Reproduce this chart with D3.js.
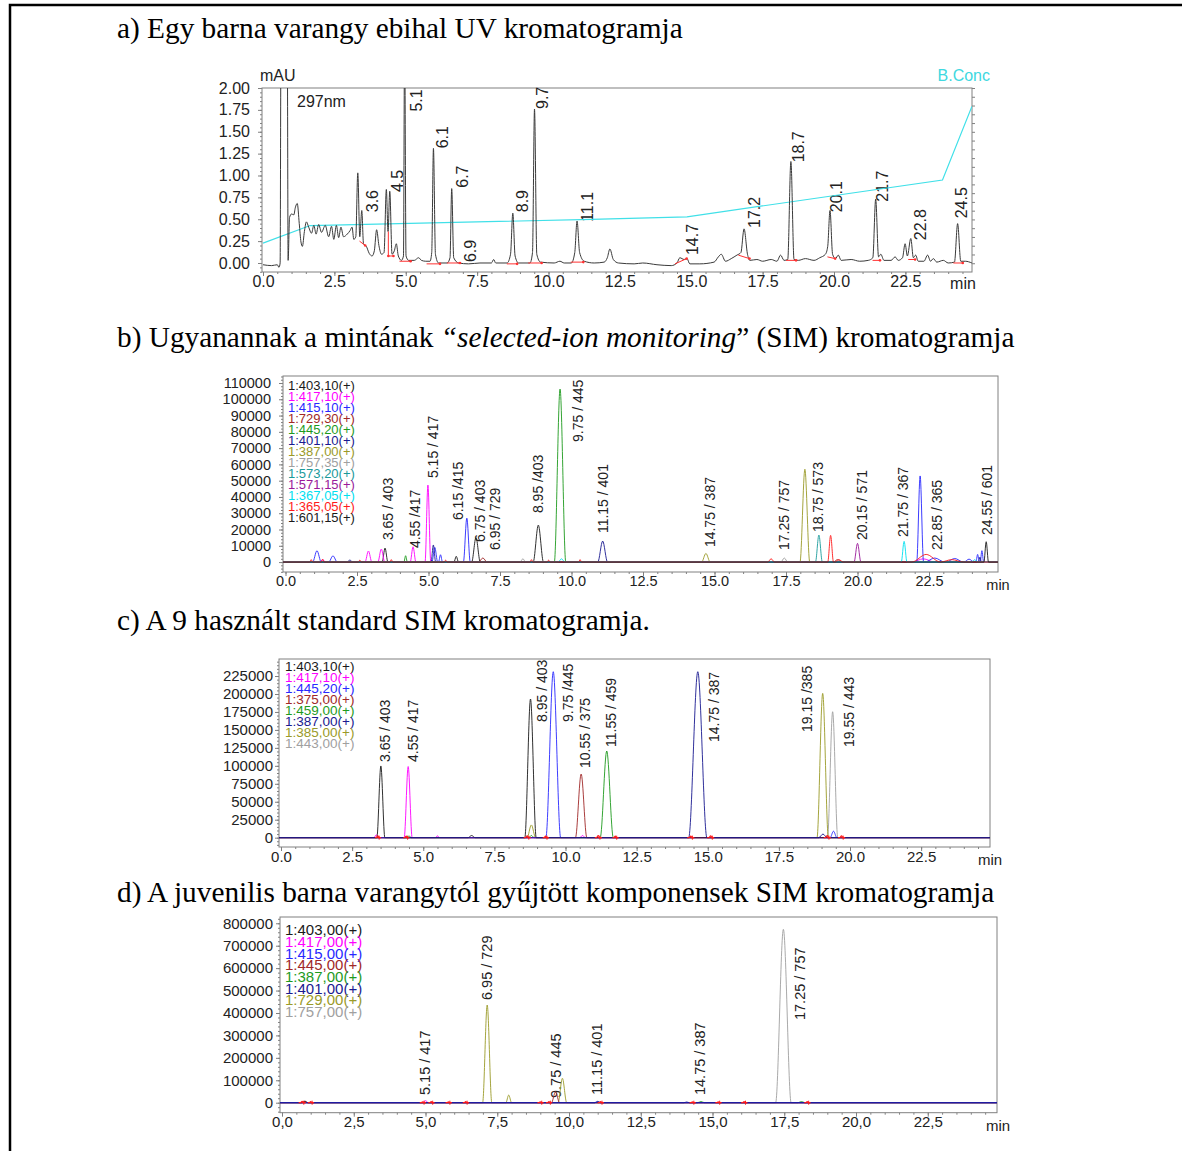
<!DOCTYPE html>
<html>
<head>
<meta charset="utf-8">
<script src="https://cdn.jsdelivr.net/npm/d3@7"></script>
<style>
  body { margin: 0; background: #fff; }
  svg text { font-family: "Liberation Sans", Arial, sans-serif; }
  svg text.title { font-family: "Liberation Serif", "Times New Roman", serif; font-size: 29.3px; fill: #000; }
</style>
</head>
<body>
<svg id="chart" width="1182" height="1151"></svg>
<script>
// ---------- data ----------
var xTicks = [0, 2.5, 5, 7.5, 10, 12.5, 15, 17.5, 20, 22.5];
var yTicksA = [0, 0.25, 0.5, 0.75, 1, 1.25, 1.5, 1.75, 2];
var yTicksB = [0, 10000, 20000, 30000, 40000, 50000, 60000, 70000, 80000, 90000, 100000, 110000];
var yTicksC = [0, 25000, 50000, 75000, 100000, 125000, 150000, 175000, 200000, 225000];
var yTicksD = [0, 100000, 200000, 300000, 400000, 500000, 600000, 700000, 800000];

var titleA = [["a) Egy barna varangy ebihal UV kromatogramja", false]];
var titleB = [["b) Ugyanannak a mintának ", false], ["\u201cselected-ion monitoring", true], ["\u201d (SIM) kromatogramja", false]];
var titleC = [["c) A 9 használt standard SIM kromatogramja.", false]];
var titleD = [["d) A juvenilis barna varangytól gyűjtött komponensek SIM kromatogramja", false]];

// a) UV trace at 297 nm: [min, mAU]
var uvTrace = [
  [0.0, -0.02], [0.3, -0.03], [0.5, -0.02], [0.56, -0.05], [0.6, 0.0], [0.63, 2.6], [0.85, 2.6], [0.88, 0.03],
  [0.93, 0.52], [1.0, 0.56], [1.08, 0.55], [1.13, 0.63], [1.2, 0.68], [1.27, 0.45], [1.33, 0.24], [1.38, 0.19],
  [1.45, 0.36], [1.52, 0.47], [1.6, 0.41], [1.7, 0.34], [1.78, 0.43], [1.86, 0.33], [1.95, 0.44], [2.05, 0.35],
  [2.18, 0.43], [2.3, 0.3], [2.4, 0.42], [2.48, 0.27], [2.57, 0.43], [2.65, 0.29], [2.73, 0.41], [2.82, 0.3],
  [2.95, 0.33], [3.05, 0.37], [3.12, 0.41], [3.18, 0.27], [3.25, 0.3], [3.32, 1.03], [3.39, 0.3], [3.46, 0.6],
  [3.52, 0.22], [3.62, 0.19], [3.72, 0.11], [3.82, 0.08], [3.9, 0.14], [3.98, 0.38], [4.06, 0.2], [4.15, 0.1],
  [4.24, 0.12], [4.32, 0.84], [4.38, 0.36], [4.44, 0.82], [4.52, 0.1], [4.6, 0.14], [4.67, 0.22], [4.74, 0.08],
  [4.85, 0.03], [4.92, 0.08], [4.96, 2.6], [5.01, 0.08], [5.1, 0.03], [5.3, 0.03], [5.45, 0.06], [5.55, 0.03],
  [5.7, 0.02], [5.85, 0.02], [5.91, 0.12], [5.97, 1.31], [6.04, 0.1], [6.15, 0.0], [6.45, 0.0], [6.55, 0.06],
  [6.61, 0.85], [6.68, 0.06], [6.85, 0.0], [7.2, -0.01], [7.6, 0.0], [8.0, 0.0], [8.08, 0.04], [8.15, 0.0],
  [8.55, 0.0], [8.67, 0.1], [8.75, 0.57], [8.83, 0.08], [8.95, 0.0], [9.35, 0.0], [9.44, 0.12], [9.51, 1.76],
  [9.59, 0.1], [9.72, 0.01], [10.2, 0.0], [10.4, 0.02], [10.55, 0.0], [10.8, 0.0], [10.92, 0.12], [11.0, 0.48],
  [11.09, 0.12], [11.25, 0.02], [11.6, 0.0], [11.95, 0.01], [12.06, 0.06], [12.15, 0.16], [12.27, 0.04], [12.45, 0.0],
  [13.0, -0.01], [13.3, 0.0], [13.8, -0.02], [14.3, -0.03], [14.5, 0.0], [14.6, 0.06], [14.75, 0.04], [14.85, 0.05],
  [14.95, -0.01], [15.3, -0.01], [15.8, 0.01], [15.95, 0.07], [16.05, 0.1], [16.2, 0.02], [16.4, 0.05], [16.6, 0.09],
  [16.74, 0.12], [16.85, 0.39], [16.97, 0.1], [17.05, 0.03], [17.3, 0.04], [17.5, 0.02], [17.8, 0.04], [18.0, 0.02],
  [18.13, 0.09], [18.25, 0.03], [18.38, 0.04], [18.49, 1.16], [18.6, 0.04], [18.75, 0.03], [19.0, 0.05], [19.3, 0.03],
  [19.5, 0.06], [19.7, 0.1], [19.78, 0.19], [19.86, 0.6], [19.95, 0.1], [20.05, 0.05], [20.15, 0.09], [20.25, 0.03],
  [20.6, 0.04], [20.9, 0.02], [21.2, 0.03], [21.36, 0.06], [21.46, 0.73], [21.56, 0.07], [21.64, 0.1], [21.75, 0.03],
  [22.0, 0.03], [22.14, 0.07], [22.25, 0.03], [22.4, 0.06], [22.49, 0.22], [22.57, 0.08], [22.69, 0.28], [22.78, 0.06],
  [22.86, 0.09], [22.95, 0.02], [23.15, 0.02], [23.28, 0.09], [23.38, 0.02], [23.48, 0.05], [23.6, 0.01], [23.83, 0.03],
  [24.0, 0.0], [24.22, 0.01], [24.33, 0.45], [24.44, 0.02], [24.6, 0.02], [24.83, 0.0]
];
// integration baselines [t1, v1, t2, v2]
var uvBaselines = [
  [3.38, 0.25, 3.58, 0.2], [4.39, 0.36, 4.39, 0.08], [4.39, 0.08, 4.57, 0.08], [4.78, 0.02, 5.17, 0.02],
  [5.73, -0.01, 6.2, -0.01], [6.44, 0.0, 6.9, 0.0], [8.54, -0.01, 8.9, -0.01], [9.29, 0.0, 9.76, 0.0],
  [10.78, 0.01, 11.22, 0.01], [14.43, -0.01, 14.84, 0.05], [16.65, 0.09, 17.04, 0.05], [18.32, 0.03, 18.67, 0.03],
  [19.77, 0.07, 20.04, 0.05], [21.35, 0.03, 21.61, 0.03], [22.6, 0.04, 22.84, 0.04], [24.18, 0.0, 24.51, 0.0]
];
var bConcTime = [0, 1.65, 11.5, 14.85, 23.8, 24.83];
var bConcPct = [11.5, 21.5, 25, 26.5, 47.5, 89.5];
// [label, min, mAU at label foot]
var labelsA = [
  ["3.6", 3.82, 0.58], ["4.5", 4.69, 0.81], ["5.1", 5.36, 1.73], ["6.1", 6.3, 1.31], ["6.7", 6.97, 0.86],
  ["6.9", 7.25, 0.01], ["8.9", 9.07, 0.58], ["9.7", 9.77, 1.76], ["11.1", 11.35, 0.47], ["14.7", 15.03, 0.09],
  ["17.2", 17.2, 0.4], ["18.7", 18.74, 1.15], ["20.1", 20.1, 0.58], ["21.7", 21.68, 0.7], ["22.8", 23.01, 0.26],
  ["24.5", 24.45, 0.51]
];

// b) SIM of the sample: peaks [min, height, half base width in min]
var ionsB = ["1:403,10(+)", "1:417,10(+)", "1:415,10(+)", "1:729,30(+)", "1:445,20(+)", "1:401,10(+)", "1:387,00(+)",
             "1:757,35(+)", "1:573,20(+)", "1:571,15(+)", "1:367,05(+)", "1:365,05(+)", "1:601,15(+)"];
var colorsB = ["#1a1a1a", "#ff00ff", "#2828ff", "#a02828", "#1e9a1e", "#1a1a90", "#9a9a28",
               "#a0a0a0", "#1a9a9a", "#9a1a9a", "#00e0f0", "#ff1a1a", "#1a1a1a"];
var peaksB = [
  [[3.48, 8600, 0.1], [5.97, 3500, 0.08], [6.66, 15000, 0.15], [8.84, 22700, 0.18]],
  [[1.3, 1500, 0.1], [2.9, 6800, 0.12], [3.35, 8000, 0.12], [4.46, 9400, 0.1], [4.98, 47300, 0.1], [22.3, 2000, 0.4]],
  [[1.1, 7000, 0.15], [1.66, 3800, 0.15], [5.22, 9000, 0.1], [5.42, 4500, 0.07], [6.34, 27000, 0.12], [22.19, 52900, 0.12],
   [22.7, 2500, 0.35], [23.4, 2200, 0.3], [23.9, 1800, 0.18], [24.2, 4700, 0.06], [24.35, 7000, 0.06]],
  [[6.9, 2500, 0.15], [19.3, 1500, 0.15]],
  [[4.2, 3900, 0.06], [9.6, 106300, 0.2]],
  [[2.25, 1200, 0.1], [5.17, 10500, 0.08], [11.09, 12900, 0.17], [24.28, 3000, 0.05]],
  [[14.7, 5300, 0.15], [18.16, 57000, 0.17]],
  [[8.3, 2000, 0.1], [17.44, 2500, 0.12]],
  [[18.65, 16600, 0.12]],
  [[20.0, 11500, 0.12]],
  [[9.65, 2000, 0.12], [21.63, 12700, 0.1], [24.1, 1500, 0.1]],
  [[0.9, 1500, 0.05], [1.3, 1800, 0.05], [2.6, 1200, 0.05], [3.7, 1500, 0.05], [5.6, 1200, 0.05], [8.6, 1500, 0.05],
   [9.2, 1200, 0.05], [10.3, 1500, 0.05], [16.98, 2000, 0.12], [19.06, 16400, 0.1], [19.35, 1500, 0.15],
   [22.4, 4700, 0.5], [23.3, 1500, 0.4]],
  [[24.5, 12500, 0.08]]
];
var labelsB = [
  ["3.65 / 403", 3.58, 13500], ["4.55 /417", 4.53, 8600], ["5.15 / 417", 5.16, 51600], ["6.15 /415", 6.03, 25800],
  ["6.75 / 403", 6.8, 12300], ["6.95 / 729", 7.33, 7400], ["8.95 /403", 8.83, 30100], ["9.75 / 445", 10.23, 73800],
  ["11.15 / 401", 11.1, 17800], ["14.75 / 387", 14.84, 9200], ["17.25 / 757", 17.43, 7400], ["18.75 / 573", 18.62, 18400],
  ["20.15 / 571", 20.16, 13500], ["21.75 / 367", 21.59, 15400], ["22.85 / 365", 22.78, 7400], ["24.55 / 601", 24.53, 16600]
];

// c) SIM of the 9 standards
var ionsC = ["1:403,10(+)", "1:417,10(+)", "1:445,20(+)", "1:375,00(+)", "1:459,00(+)", "1:387,00(+)", "1:385,00(+)", "1:443,00(+)"];
var colorsC = ["#1a1a1a", "#ff00ff", "#2828ff", "#a02828", "#1e9a1e", "#1a1a90", "#9a9a28", "#a0a0a0"];
var peaksC = [
  [[3.51, 99800, 0.14], [6.7, 3000, 0.12], [8.77, 193000, 0.2]],
  [[3.35, 4000, 0.08], [4.47, 99000, 0.14], [5.5, 2500, 0.08], [10.6, 3000, 0.1]],
  [[9.57, 231000, 0.26], [19.42, 9000, 0.12]],
  [[10.55, 88600, 0.2]],
  [[4.5, 2500, 0.08], [8.8, 3000, 0.1], [11.45, 120600, 0.23]],
  [[14.65, 231000, 0.32], [19.05, 5000, 0.15]],
  [[8.8, 17700, 0.15], [19.04, 200900, 0.2]],
  [[19.39, 175300, 0.18]]
];
var noiseC = [[3.4, 2500, 0.05], [4.4, 2000, 0.05], [8.65, 2500, 0.06], [9.3, 2000, 0.05], [11.15, 3000, 0.06],
              [11.75, 2000, 0.05], [14.4, 2000, 0.06], [15.1, 2500, 0.06], [19.2, 3000, 0.06], [19.7, 2500, 0.06]];
var labelsC = [
  ["3.65 / 403", 3.66, 105300], ["4.55 / 417", 4.64, 105300], ["8.95 / 403", 9.17, 161000], ["9.75 /445", 10.09, 161000],
  ["10.55 / 375", 10.69, 97000], ["11.55 / 459", 11.6, 126200], ["14.75 / 387", 15.22, 133200],
  ["19.15 /385", 18.49, 147100], ["19.55 / 443", 19.96, 126200]
];

// d) SIM of the juvenile toad components
var ionsD = ["1:403,00(+)", "1:417,00(+)", "1:415,00(+)", "1:445,00(+)", "1:387,00(+)", "1:401,00(+)", "1:729,00(+)", "1:757,00(+)"];
var colorsD = ["#1a1a1a", "#ff00ff", "#2828ff", "#a02828", "#1e9a1e", "#1a1a90", "#9a9a28", "#a0a0a0"];
var peaksD = [
  [[0.8, 5000, 0.1]],
  [[5.0, 9000, 0.1]],
  [[11.0, 4000, 0.1]],
  [[0.8, 7000, 0.1], [9.53, 49000, 0.14]],
  [[14.6, 5000, 0.12], [18.1, 5000, 0.12]],
  [[11.0, 6000, 0.1], [14.1, 3000, 0.1]],
  [[7.15, 435600, 0.16], [7.9, 34000, 0.1], [9.77, 108800, 0.15]],
  [[17.47, 773000, 0.27]]
];
var noiseD = [[0.7, 6000, 0.06], [1.0, 5000, 0.05], [4.9, 4000, 0.05], [5.2, 5000, 0.05], [5.8, 4000, 0.05],
              [6.4, 5000, 0.05], [9.0, 4000, 0.05], [9.3, 5000, 0.05], [11.1, 5000, 0.05], [14.3, 4000, 0.05],
              [15.2, 4000, 0.05], [16.1, 5000, 0.05], [18.3, 5000, 0.05]];
var labelsD = [
  ["5.15 / 417", 4.98, 34300], ["6.95 / 729", 7.14, 457900], ["9.75 / 445", 9.55, 21000],
  ["11.15 / 401", 10.98, 34300], ["14.75 / 387", 14.56, 34300], ["17.25 / 757", 18.05, 368700]
];

// ---------- drawing ----------
var svg = d3.select("#chart");
var fmtComma = d3.formatLocale({decimal: ",", thousands: ".", grouping: [3], currency: ["", ""]}).format(".1f");

// outer frame
svg.append("rect").attr("x", 10).attr("y", 5).attr("width", 1190).attr("height", 1170)
  .attr("fill", "none").attr("stroke", "#000").attr("stroke-width", 2.5);

function title(parts, y) {
  var t = svg.append("text").attr("class", "title").attr("x", 117).attr("y", y);
  parts.forEach(function(p) {
    t.append("tspan").attr("font-style", p[1] ? "italic" : null).text(p[0]);
  });
}
title(titleA, 38);
title(titleB, 347);
title(titleC, 630);
title(titleD, 902);

function panel(p) {
  var xs = d3.scaleLinear()
    .domain([(p.left - p.x0) / p.ppm, (p.right - p.x0) / p.ppm])
    .range([p.left, p.right]);
  var ys = d3.scaleLinear().domain(p.yDomain).range([p.bottom, p.top]);
  var g = svg.append("g");

  function styleAxis(sel) {
    sel.attr("color", "#808080").attr("font-family", null).attr("font-size", p.tickFont);
    sel.select(".domain").remove();
    sel.selectAll("text").attr("fill", "#222");
  }
  g.append("g").attr("transform", "translate(" + p.left + ",0)")
    .call(d3.axisLeft(ys).tickValues(p.yMinor).tickSize(2).tickFormat(""))
    .call(styleAxis);
  g.append("g").attr("transform", "translate(" + p.left + ",0)")
    .call(d3.axisLeft(ys).tickValues(p.yTicks).tickSize(4).tickPadding(p.yPad).tickFormat(p.yFmt))
    .call(styleAxis);
  g.append("g").attr("transform", "translate(0," + p.bottom + ")")
    .call(d3.axisBottom(xs).tickValues(d3.range(0, 24.9, 0.5)).tickSize(2).tickFormat(""))
    .call(styleAxis);
  g.append("g").attr("transform", "translate(0," + p.bottom + ")")
    .call(d3.axisBottom(xs).tickValues(xTicks).tickSize(4).tickPadding(0).tickFormat(p.xFmt))
    .call(styleAxis);

  g.append("rect").attr("x", p.left).attr("y", p.top)
    .attr("width", p.right - p.left).attr("height", p.bottom - p.top)
    .attr("fill", "none").attr("stroke", "#808080").attr("stroke-width", 1);

  g.append("text").attr("x", p.minX).attr("y", p.bottom + p.minDy).attr("dy", "0.35em")
    .attr("text-anchor", "middle").attr("font-size", p.tickFont).attr("fill", "#222").text("min");

  svg.append("clipPath").attr("id", "clip-" + p.id).append("rect")
    .attr("x", p.left).attr("y", p.top).attr("width", p.right - p.left).attr("height", p.bottom - p.top);
  var plot = svg.append("g").attr("clip-path", "url(#clip-" + p.id + ")");
  return {xs: xs, ys: ys, g: g, plot: plot, p: p};
}

function peakPoints(peaks, x0, x1) {
  var raw = [[x0, 0]];
  peaks.slice().sort(function(a, b) { return a[0] - b[0]; }).forEach(function(k) {
    raw.push([k[0] - k[2], 0], [k[0], k[1]], [k[0] + k[2], 0]);
  });
  raw.push([x1, 0]);
  var pts = [];
  raw.forEach(function(d) {
    if (!pts.length || d[0] > pts[pts.length - 1][0] + 1e-6) pts.push(d);
  });
  return pts;
}

function lineGen(pan) {
  return d3.line().x(function(d) { return pan.xs(d[0]); }).y(function(d) { return pan.ys(d[1]); })
    .curve(d3.curveMonotoneX);
}

// draws the ion channels; "order" lists which channel goes down first
function drawChannels(pan, peakSets, colors, order) {
  var dom = pan.xs.domain();
  var line = lineGen(pan);
  var idx = order || peakSets.map(function(d, i) { return i; });
  pan.plot.selectAll(null).data(idx).enter().append("path")
    .attr("d", function(i) { return line(peakPoints(peakSets[i], dom[0], dom[1])); })
    .attr("fill", "none").attr("stroke", function(i) { return colors[i]; })
    .attr("stroke-width", 1).attr("stroke-opacity", 0.9);
}

// red noise blips: short pieces only, so the baseline keeps the other colours
function drawNoise(pan, blips, color) {
  var line = lineGen(pan);
  pan.plot.selectAll(null).data(blips).enter().append("path")
    .attr("d", function(k) { return line(peakPoints([k], k[0] - 2 * k[2], k[0] + 2 * k[2])); })
    .attr("fill", "none").attr("stroke", color).attr("stroke-width", 1.2);
  pan.plot.selectAll(null).data(blips).enter().append("path")
    .attr("d", function(k) {
      var x = pan.xs(k[0] + k[2]), y = pan.ys(0);
      return "M" + (x - 2) + "," + y + "H" + (x + 2) + "M" + x + "," + (y - 2) + "V" + (y + 2);
    })
    .attr("stroke", color).attr("stroke-width", 1);
}

function peakLabels(pan, labels, size) {
  pan.g.selectAll(null).data(labels).enter().append("text")
    .attr("transform", function(d) { return "translate(" + pan.xs(d[1]) + "," + pan.ys(d[2]) + ") rotate(-90)"; })
    .attr("dy", "0.35em").attr("font-size", size).attr("fill", "#222").text(function(d) { return d[0]; });
}

function legend(pan, names, colors) {
  var p = pan.p;
  pan.g.selectAll(null).data(names).enter().append("text")
    .attr("x", p.left + p.legDx).attr("y", function(d, i) { return p.top + p.legDy + i * p.legStep; })
    .attr("dy", "0.35em").attr("font-size", p.legFont)
    .attr("fill", function(d, i) { return colors[i]; }).text(function(d) { return d; });
}

// ----- panel a -----
var pa = panel({
  id: "a", left: 262, right: 972, top: 88, bottom: 272, x0: 263, ppm: 28.55,
  yDomain: [-0.103, 2.0], yTicks: yTicksA, yMinor: d3.range(-0.1, 2.001, 0.05), yFmt: d3.format(".2f"),
  yPad: 8, tickFont: 16, xFmt: d3.format(".1f"), minX: 963, minDy: 11
});
var bScale = d3.scaleLinear().domain([-5, 100]).range([272, 88]);
pa.g.append("g").attr("transform", "translate(972,0)")
  .call(d3.axisRight(bScale).tickValues(d3.range(0, 101, 5)).tickSize(3).tickFormat(""))
  .call(function(s) { s.attr("color", "#808080"); s.select(".domain").remove(); });

pa.plot.append("path")
  .attr("d", d3.line().x(function(d) { return pa.xs(d); }).y(function(d, i) { return bScale(bConcPct[i]); })(bConcTime))
  .attr("fill", "none").attr("stroke", "#40e0e8").attr("stroke-width", 1.2);
pa.plot.append("path").attr("d", lineGen(pa)(uvTrace))
  .attr("fill", "none").attr("stroke", "#3a3a3a").attr("stroke-width", 1);
pa.plot.selectAll(null).data(uvBaselines).enter().append("line")
  .attr("x1", function(d) { return pa.xs(d[0]); }).attr("y1", function(d) { return pa.ys(d[1]); })
  .attr("x2", function(d) { return pa.xs(d[2]); }).attr("y2", function(d) { return pa.ys(d[3]); })
  .attr("stroke", "#ff3030").attr("stroke-width", 1);
pa.plot.selectAll(null).data(uvBaselines).enter().append("circle")
  .attr("cx", function(d) { return pa.xs(d[2]); }).attr("cy", function(d) { return pa.ys(d[3]); })
  .attr("r", 1.3).attr("fill", "#ff3030");
peakLabels(pa, labelsA, 16);
pa.g.append("text").attr("x", 260).attr("y", 75).attr("dy", "0.35em").attr("font-size", 16).attr("fill", "#222").text("mAU");
pa.g.append("text").attr("x", 297).attr("y", 101).attr("dy", "0.35em").attr("font-size", 16).attr("fill", "#222").text("297nm");
pa.g.append("text").attr("x", 990).attr("y", 75).attr("dy", "0.35em").attr("text-anchor", "end")
  .attr("font-size", 16).attr("fill", "#40d8e0").text("B.Conc");

// ----- panel b -----
var pb = panel({
  id: "b", left: 283, right: 998, top: 376, bottom: 572, x0: 285.5, ppm: 28.6,
  yDomain: [-6100, 114300], yTicks: yTicksB, yMinor: d3.range(-6000, 114001, 2000), yFmt: d3.format("d"),
  yPad: 8, tickFont: 14.5, xFmt: d3.format(".1f"), minX: 998, minDy: 13,
  legDx: 5, legDy: 9, legStep: 11, legFont: 13
});
drawChannels(pb, peaksB, colorsB);
peakLabels(pb, labelsB, 14);
legend(pb, ionsB, colorsB);

// ----- panel c -----
var pc = panel({
  id: "c", left: 279, right: 990, top: 659, bottom: 847, x0: 281, ppm: 28.45,
  yDomain: [-13000, 248700], yTicks: yTicksC, yMinor: d3.range(-10000, 248000, 5000), yFmt: d3.format("d"),
  yPad: 2, tickFont: 15, xFmt: d3.format(".1f"), minX: 990, minDy: 13,
  legDx: 6, legDy: 7, legStep: 11, legFont: 13.5
});
drawChannels(pc, peaksC, colorsC, [7, 6, 4, 3, 2, 1, 0, 5]);
drawNoise(pc, noiseC, "#ff1a1a");
peakLabels(pc, labelsC, 14);
legend(pc, ionsC, colorsC);

// ----- panel d -----
var pd = panel({
  id: "d", left: 280, right: 997, top: 917, bottom: 1112.7, x0: 282, ppm: 28.7,
  yDomain: [-44600, 828000], yTicks: yTicksD, yMinor: d3.range(-40000, 828000, 20000), yFmt: d3.format("d"),
  yPad: 3, tickFont: 15, xFmt: fmtComma, minX: 998, minDy: 13,
  legDx: 5, legDy: 13, legStep: 11.7, legFont: 15
});
drawChannels(pd, peaksD, colorsD, [7, 6, 4, 3, 1, 0, 2, 5]);
drawNoise(pd, noiseD, "#ff1a1a");
peakLabels(pd, labelsD, 14.5);
legend(pd, ionsD, colorsD);
</script>
</body>
</html>
